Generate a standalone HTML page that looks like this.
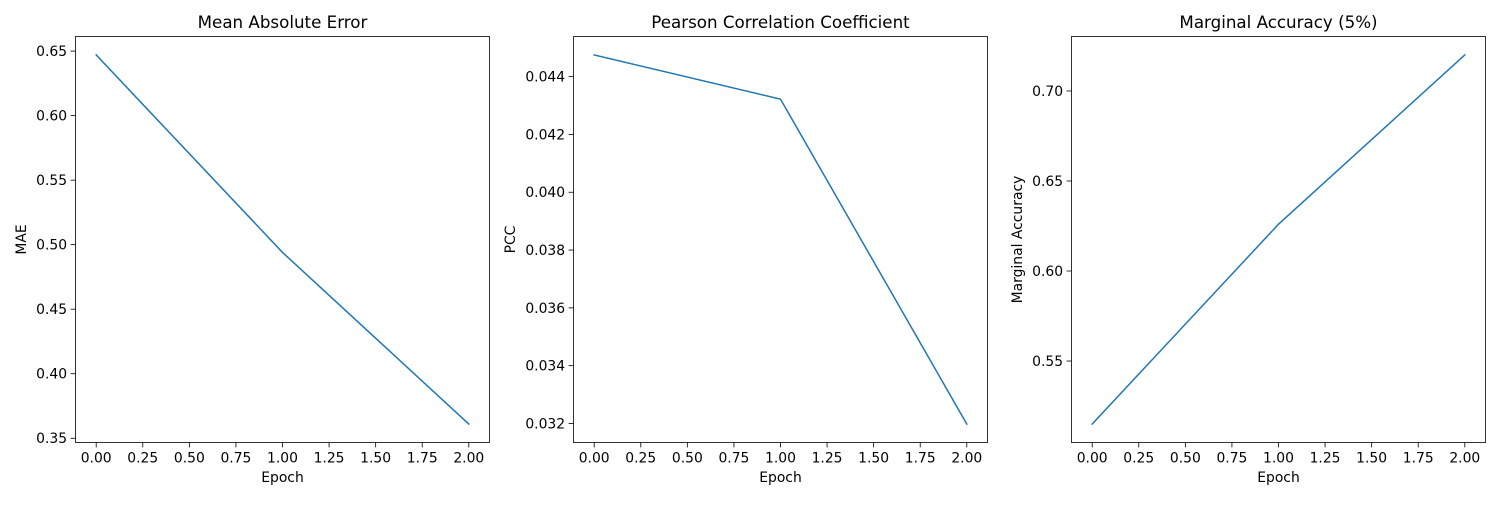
<!DOCTYPE html>
<html><head><meta charset="utf-8"><style>
body{margin:0;background:#fff;width:1500px;height:500px;overflow:hidden}
svg text{font-family:"DejaVu Sans","Liberation Sans",sans-serif;fill:#000}
</style></head><body>
<svg id="chart" width="1500" height="500" xmlns="http://www.w3.org/2000/svg"></svg>
<script>
const epochs = [0, 1, 2];
const xTicks = [0, 0.25, 0.5, 0.75, 1.0, 1.25, 1.5, 1.75, 2.0];
const maeValues = [0.647, 0.494, 0.361];
const pccValues = [0.04475, 0.04322, 0.03198];
const accValues = [0.515, 0.626, 0.720];
const maeTicks = [0.35, 0.40, 0.45, 0.50, 0.55, 0.60, 0.65];
const pccTicks = [0.032, 0.034, 0.036, 0.038, 0.040, 0.042, 0.044];
const accTicks = [0.55, 0.60, 0.65, 0.70];

const NS = "http://www.w3.org/2000/svg";
const svgEl = document.getElementById('chart');
function mk(tag, attrs, parent){const e=document.createElementNS(NS,tag);for(const k in attrs)e.setAttribute(k,attrs[k]);(parent||svgEl).appendChild(e);return e;}

const panels = [
 {left:75.5, title:'Mean Absolute Error', ylabel:'MAE', vals:maeValues, ticks:maeTicks, dec:2, name:'mae', lab:49.5},
 {left:573.5, title:'Pearson Correlation Coefficient', ylabel:'PCC', vals:pccValues, ticks:pccTicks, dec:3, name:'pcc', lab:58.5},
 {left:1071.5, title:'Marginal Accuracy (5%)', ylabel:'Marginal Accuracy', vals:accValues, ticks:accTicks, dec:2, name:'accuracy', lab:49.5}
];
const plotTop=36.5, plotBottom=442.5, plotW=414;
const FS=13.9, TFS=16.7;

panels.forEach(p=>{
  const g = mk('g',{});
  
  
  const mn=Math.min(...p.vals), mx=Math.max(...p.vals), r=mx-mn;
  const y0=mn-0.05*r, y1=mx+0.05*r;
  const xs=v=>p.left+plotW*(0.05+0.9*(v-0)/2);
  const ys=v=>plotBottom-(v-y0)/(y1-y0)*(plotBottom-plotTop);
  const pts=epochs.map((e,i)=>xs(e).toFixed(2)+','+ys(p.vals[i]).toFixed(2)).join(' ');
  const line=mk('polyline',{points:pts,fill:'none',stroke:'#1f77b4','stroke-width':1.5,'stroke-linecap':'square'},g);
  
  
  const fr=mk('rect',{x:p.left,y:plotTop,width:plotW,height:plotBottom-plotTop,fill:'none',stroke:'#000','stroke-width':0.8},g);
  
  
  xTicks.forEach(t=>{
    const x=xs(t);
    mk('line',{x1:x,x2:x,y1:plotBottom,y2:plotBottom+4.9,stroke:'#000','stroke-width':0.8},g);
    const tx=mk('text',{x:x,y:plotBottom+20,'font-size':FS,'text-anchor':'middle'},g);
    tx.textContent=t.toFixed(2);
    
    
  });
  p.ticks.forEach(t=>{
    const y=ys(t);
    mk('line',{x1:p.left-4.9,x2:p.left,y1:y,y2:y,stroke:'#000','stroke-width':0.8},g);
    const tx=mk('text',{x:p.left-8.4,y:y+5,'font-size':FS,'text-anchor':'end'},g);
    tx.textContent=t.toFixed(p.dec);
    
    
  });
  const ti=mk('text',{x:p.left+plotW/2,y:28,'font-size':TFS,'text-anchor':'middle'},g);
  ti.textContent=p.title;
  
  
  const xl=mk('text',{x:p.left+plotW/2,y:482,'font-size':FS,'text-anchor':'middle'},g);
  xl.textContent='Epoch';
  
  
  const lx=p.left-p.lab;
  const cy=(plotTop+plotBottom)/2;
  const yl=mk('text',{x:lx,y:cy,'font-size':FS,'text-anchor':'middle',transform:`rotate(-90 ${lx} ${cy})`},g);
  yl.textContent=p.ylabel;
  
  
});
</script>
</body></html>
